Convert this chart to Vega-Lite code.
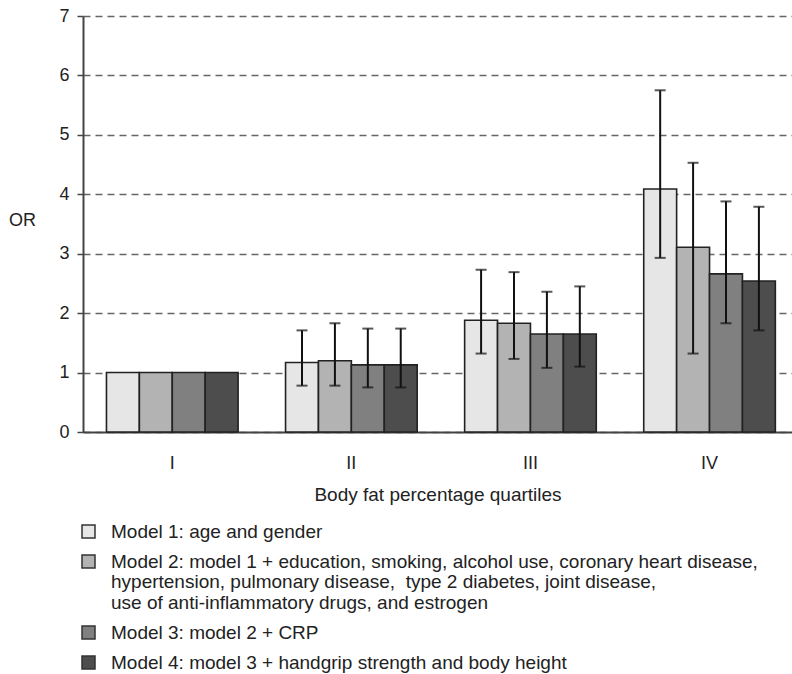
{
  "$schema": "https://vega.github.io/schema/vega-lite/v6.json",
  "width": 709,
  "height": 416,
  "autosize": {"type": "none"},
  "padding": {"left": 83, "top": 16, "right": 0, "bottom": 242},
  "background": "white",
  "config": {
    "view": {"stroke": null},
    "font": "Liberation Sans",
    "axis": {"labelFont": "Liberation Sans", "titleFont": "Liberation Sans", "labelColor": "#222", "titleColor": "#222", "titleFontWeight": "normal"}
  },
  "data": {
    "values": [
      {"quartile": "I", "model": "Model 1: age and gender", "or": 1.0, "lo": null, "hi": null},
      {"quartile": "I", "model": "Model 2: model 1 + education, smoking, alcohol use, coronary heart disease,|hypertension, pulmonary disease,\u00a0 type 2 diabetes, joint disease,|use of anti-inflammatory drugs, and estrogen", "or": 1.0, "lo": null, "hi": null},
      {"quartile": "I", "model": "Model 3: model 2 + CRP", "or": 1.0, "lo": null, "hi": null},
      {"quartile": "I", "model": "Model 4: model 3 + handgrip strength and body height", "or": 1.0, "lo": null, "hi": null},
      {"quartile": "II", "model": "Model 1: age and gender", "or": 1.17, "lo": 0.78, "hi": 1.71},
      {"quartile": "II", "model": "Model 2: model 1 + education, smoking, alcohol use, coronary heart disease,|hypertension, pulmonary disease,\u00a0 type 2 diabetes, joint disease,|use of anti-inflammatory drugs, and estrogen", "or": 1.2, "lo": 0.78, "hi": 1.83},
      {"quartile": "II", "model": "Model 3: model 2 + CRP", "or": 1.13, "lo": 0.75, "hi": 1.74},
      {"quartile": "II", "model": "Model 4: model 3 + handgrip strength and body height", "or": 1.13, "lo": 0.75, "hi": 1.74},
      {"quartile": "III", "model": "Model 1: age and gender", "or": 1.88, "lo": 1.32, "hi": 2.73},
      {"quartile": "III", "model": "Model 2: model 1 + education, smoking, alcohol use, coronary heart disease,|hypertension, pulmonary disease,\u00a0 type 2 diabetes, joint disease,|use of anti-inflammatory drugs, and estrogen", "or": 1.83, "lo": 1.23, "hi": 2.69},
      {"quartile": "III", "model": "Model 3: model 2 + CRP", "or": 1.65, "lo": 1.08, "hi": 2.36},
      {"quartile": "III", "model": "Model 4: model 3 + handgrip strength and body height", "or": 1.65, "lo": 1.1, "hi": 2.45},
      {"quartile": "IV", "model": "Model 1: age and gender", "or": 4.09, "lo": 2.93, "hi": 5.75},
      {"quartile": "IV", "model": "Model 2: model 1 + education, smoking, alcohol use, coronary heart disease,|hypertension, pulmonary disease,\u00a0 type 2 diabetes, joint disease,|use of anti-inflammatory drugs, and estrogen", "or": 3.11, "lo": 1.32, "hi": 4.53},
      {"quartile": "IV", "model": "Model 3: model 2 + CRP", "or": 2.66, "lo": 1.83, "hi": 3.88},
      {"quartile": "IV", "model": "Model 4: model 3 + handgrip strength and body height", "or": 2.54, "lo": 1.71, "hi": 3.79}
    ]
  },
  "encoding": {
    "x": {
      "field": "quartile", "type": "nominal", "sort": ["I", "II", "III", "IV"],
      "scale": {"paddingInner": 0.265, "paddingOuter": 0.112, "align": 0.585},
      "axis": {
        "title": "Body fat percentage quartiles",
        "labelAngle": 0, "labelFontSize": 18, "labelPadding": 22, "ticks": false,
        "domainColor": "#444", "domainWidth": 2,
        "titleFontSize": 19, "titlePadding": 13
      }
    },
    "xOffset": {"field": "model", "type": "nominal", "scale": {"paddingInner": 0, "paddingOuter": 0}}
  },
  "layer": [
    {
      "mark": {"type": "bar", "stroke": "#222", "strokeWidth": 1.6},
      "encoding": {
        "y": {
          "field": "or", "type": "quantitative",
          "scale": {"domain": [0, 7], "nice": false},
          "axis": {
            "values": [0, 1, 2, 3, 4, 5, 6, 7], "format": "d",
            "title": "OR", "titleAngle": 0, "titleAlign": "center", "titleBaseline": "middle",
            "titleX": -61, "titleY": 204, "titleFontSize": 18,
            "labelFontSize": 18, "labelPadding": 8,
            "tickSize": 6, "tickColor": "#444", "tickWidth": 1.5,
            "domainColor": "#444", "domainWidth": 2,
            "grid": true, "gridColor": "#666", "gridWidth": 1.5, "gridDash": [7, 5]
          }
        },
        "fill": {
          "field": "model", "type": "nominal",
          "scale": {"range": ["#e6e6e6", "#b3b3b3", "#808080", "#4d4d4d"]},
          "legend": {
            "title": null, "orient": "none", "legendX": -4, "legendY": 506,
            "direction": "vertical", "padding": 0,
            "symbolType": "square", "symbolSize": 169, "symbolStrokeColor": "#333", "symbolStrokeWidth": 1.5,
            "labelFontSize": 19, "labelFont": "Liberation Sans", "labelColor": "#222",
            "labelLimit": 800, "labelOffset": 13, "labelBaseline": "alphabetic",
            "labelExpr": "split(datum.label, '|')",
            "rowPadding": 10,
            "encode": {"labels": {"update": {"dy": {"value": 6}, "lineHeight": {"value": 20.5}}}}
          }
        }
      }
    },
    {
      "mark": {"type": "rule", "color": "#111", "strokeWidth": 2},
      "encoding": {
        "y": {"field": "lo", "type": "quantitative"},
        "y2": {"field": "hi"}
      }
    },
    {
      "mark": {"type": "tick", "color": "#111", "thickness": 2, "size": 11},
      "encoding": {"y": {"field": "lo", "type": "quantitative"}}
    },
    {
      "mark": {"type": "tick", "color": "#111", "thickness": 2, "size": 11},
      "encoding": {"y": {"field": "hi", "type": "quantitative"}}
    }
  ]
}
